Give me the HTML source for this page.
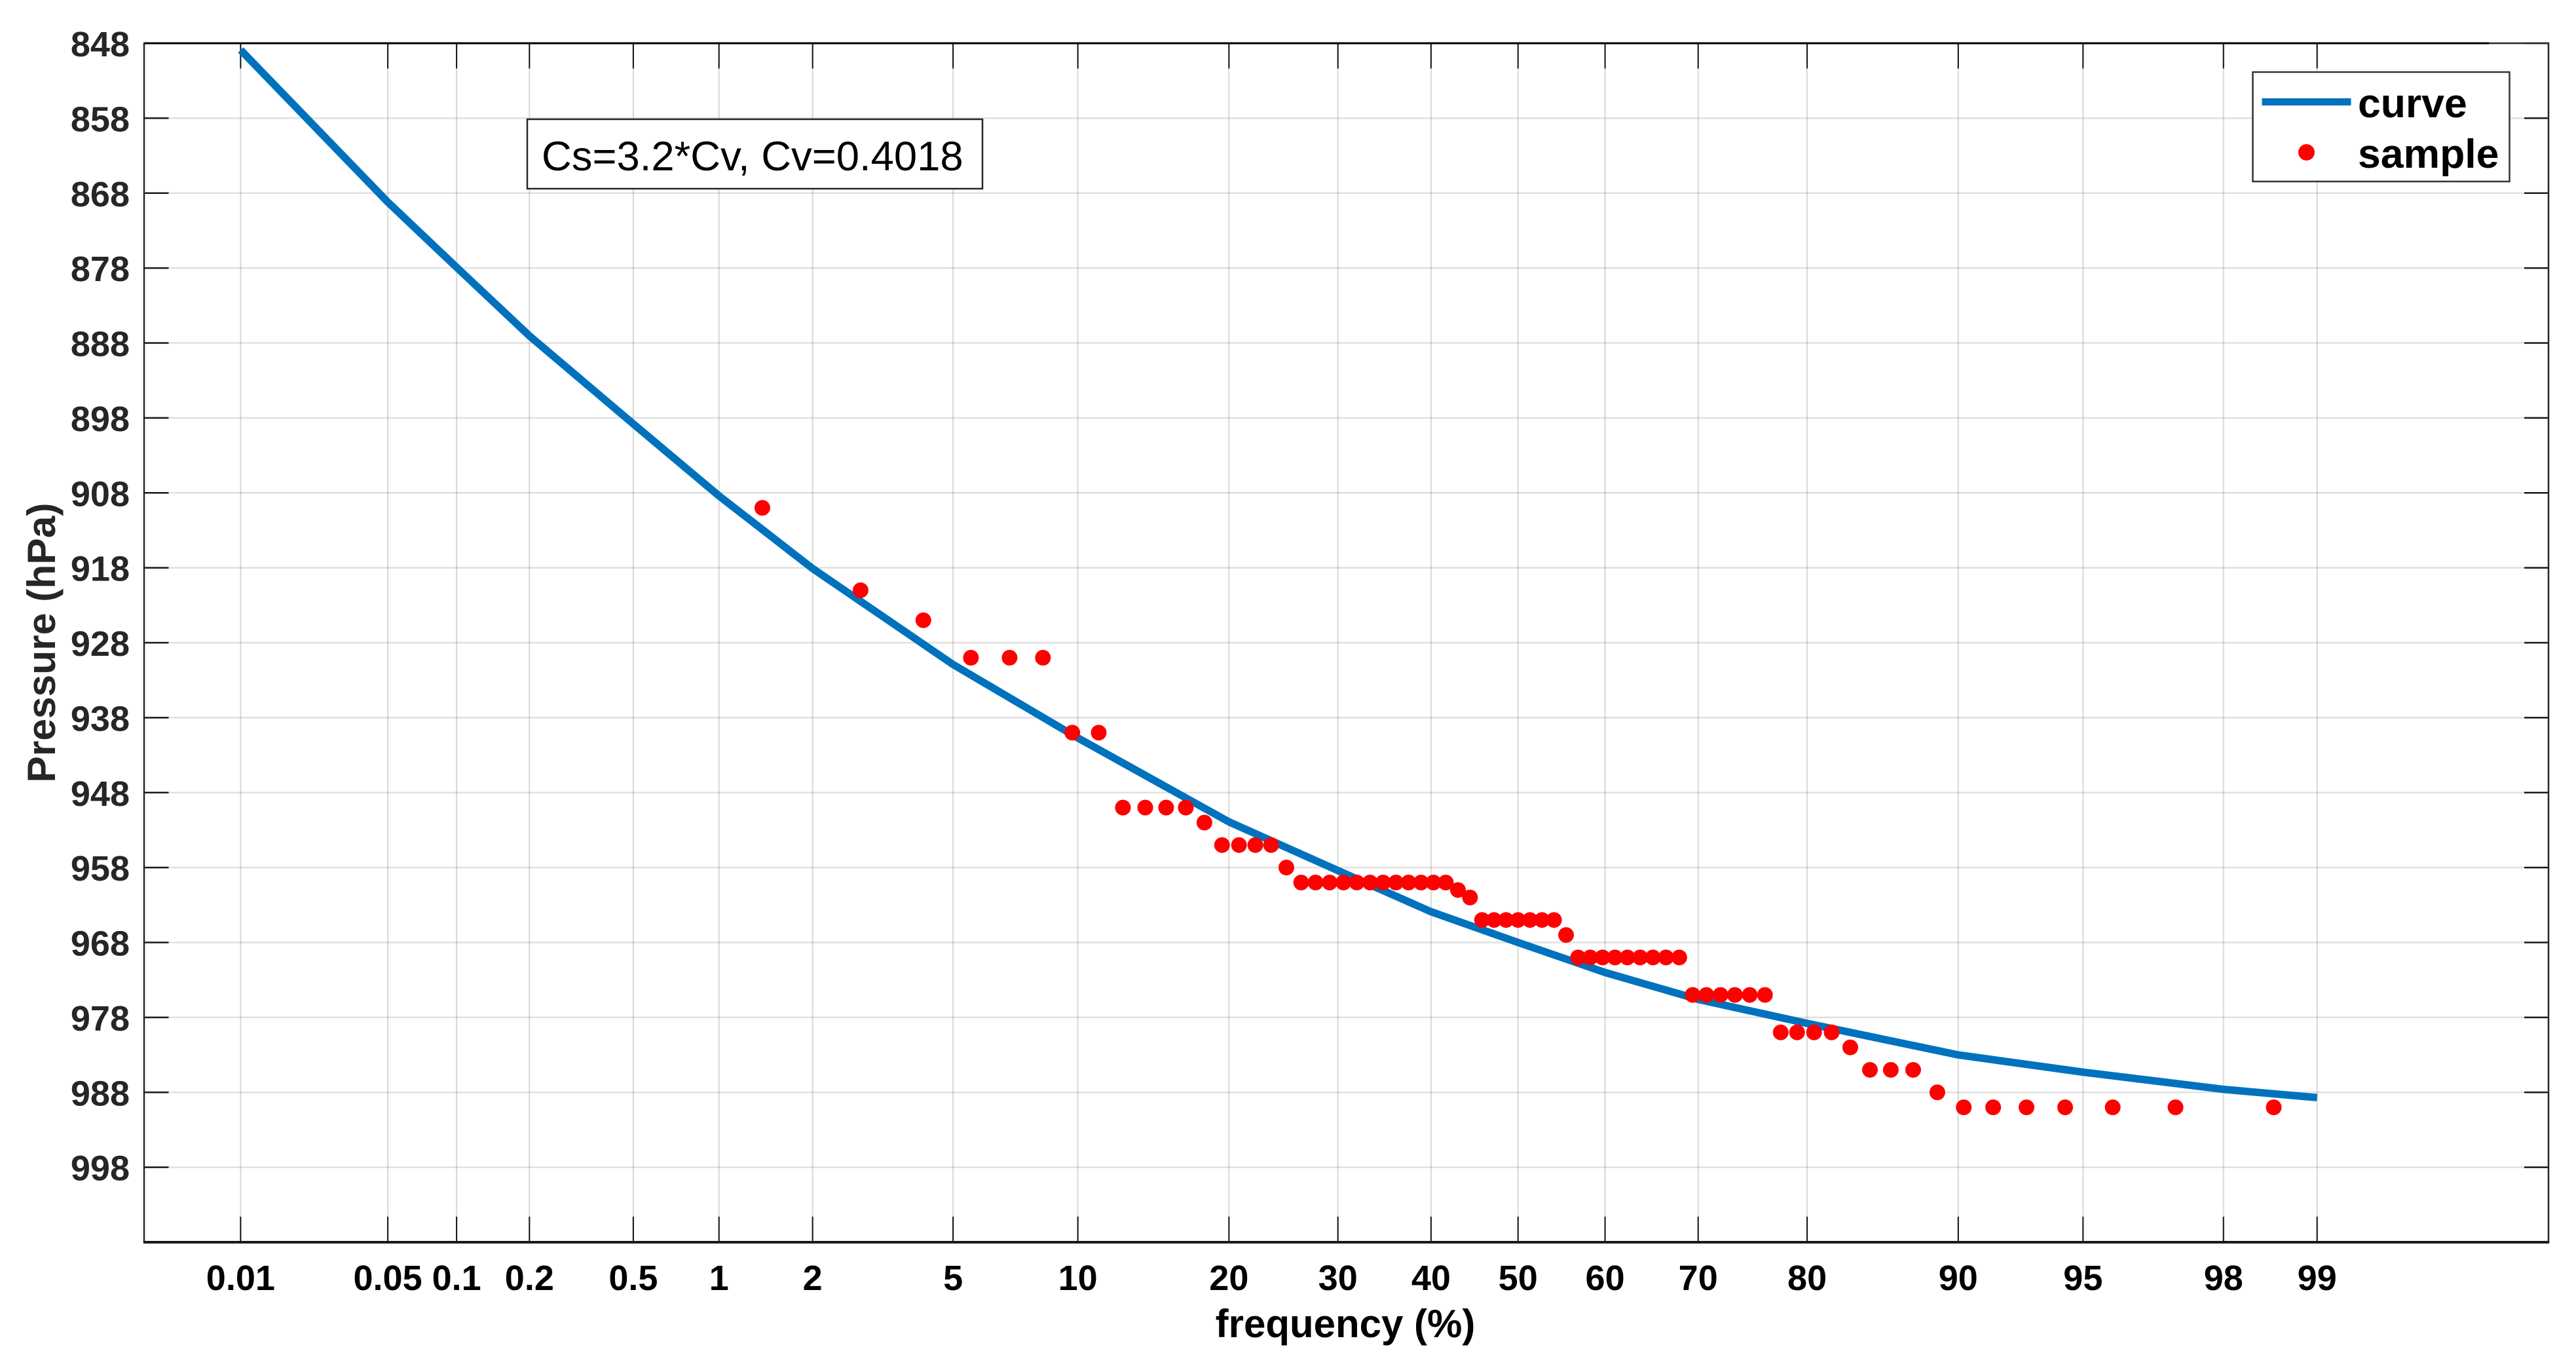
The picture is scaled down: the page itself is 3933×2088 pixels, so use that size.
<!DOCTYPE html>
<html lang="en">
<head>
<meta charset="utf-8">
<title>Pressure frequency curve</title>
<style>
html,body{margin:0;padding:0;background:#fff;}
svg{display:block;}
text{font-family:"Liberation Sans",Arial,sans-serif;}
</style>
</head>
<body>
<svg id="chart" xmlns="http://www.w3.org/2000/svg" width="3933" height="2088" viewBox="0 0 3933 2088">
  <rect x="0" y="0" width="3933" height="2088" fill="#ffffff"/>
  <g id="grid"></g>
  <g id="ticks"></g>
  <rect x="220" y="66" width="3671" height="1830" fill="none" stroke="#262626" stroke-width="2.5"/>
  <line x1="219" y1="1896" x2="3892" y2="1896" stroke="#1a1a1a" stroke-width="4"/>
  <line x1="220" y1="66" x2="3800" y2="66" stroke="#000000" stroke-width="3"/>
  <polyline id="curve" fill="none" stroke="#0072BD" stroke-width="11.5" stroke-linejoin="round"/>
  <g id="samples"></g>
  <g id="xlabels"></g>
  <g id="ylabels"></g>
  <text x="2054" y="2041" font-size="60" font-weight="bold" fill="#000000" text-anchor="middle">frequency (%)</text>
  <text transform="translate(84,981) rotate(-90)" font-size="60.5" font-weight="bold" fill="#262626" text-anchor="middle">Pressure (hPa)</text>
  <g>
    <rect x="805" y="182" width="695" height="106" fill="#ffffff" stroke="#262626" stroke-width="2.5"/>
    <text x="827" y="260" font-size="63.4" fill="#000000">Cs=3.2*Cv, Cv=0.4018</text>
  </g>
  <g>
    <rect x="3439.5" y="110" width="392" height="167" fill="#ffffff" stroke="#333333" stroke-width="2.5"/>
    <line x1="3453.5" y1="155.5" x2="3589.5" y2="155.5" stroke="#0072BD" stroke-width="11"/>
    <text x="3600" y="179" font-size="62.5" font-weight="bold" fill="#000000">curve</text>
    <circle cx="3521.5" cy="232.5" r="12.5" fill="#ff0000"/>
    <text x="3600" y="256" font-size="62.5" font-weight="bold" fill="#000000">sample</text>
  </g>
</svg>
<script>
var xTickFrequencies = [0.01, 0.05, 0.1, 0.2, 0.5, 1, 2, 5, 10, 20, 30, 40, 50, 60, 70, 80, 90, 95, 98, 99];
var yTickPressures = [848, 858, 868, 878, 888, 898, 908, 918, 928, 938, 948, 958, 968, 978, 988, 998];

var curveFrequency = [0.01, 0.05, 0.1, 0.2, 0.5, 1, 2, 5, 10, 20, 30, 40, 50, 60, 70, 80, 90, 95, 98, 99];
var curvePressure = [848.9, 869.2, 877.9, 887.05, 898.8, 908.4, 918.1, 930.9, 940.7, 951.9, 958.4, 963.9, 968, 972, 975.6, 978.8, 983, 985.3, 987.6, 988.7];

var sampleFrequency = [1.39, 2.78, 4.17, 5.56, 6.94, 8.33, 9.72, 11.11, 12.5, 13.89, 15.28, 16.67, 18.06, 19.44, 20.83, 22.22, 23.61, 25, 26.39, 27.78, 29.17, 30.56, 31.94, 33.33, 34.72, 36.11, 37.5, 38.89, 40.28, 41.67, 43.06, 44.44, 45.83, 47.22, 48.61, 50, 51.39, 52.78, 54.17, 55.56, 56.94, 58.33, 59.72, 61.11, 62.5, 63.89, 65.28, 66.67, 68.06, 69.44, 70.83, 72.22, 73.61, 75, 76.39, 77.78, 79.17, 80.56, 81.94, 83.33, 84.72, 86.11, 87.5, 88.89, 90.28, 91.67, 93.06, 94.44, 95.83, 97.22, 98.61];
var samplePressure = [910, 921, 925, 930, 930, 930, 940, 940, 950, 950, 950, 950, 952, 955, 955, 955, 955, 958, 960, 960, 960, 960, 960, 960, 960, 960, 960, 960, 960, 960, 961, 962, 965, 965, 965, 965, 965, 965, 965, 967, 970, 970, 970, 970, 970, 970, 970, 970, 970, 975, 975, 975, 975, 975, 975, 980, 980, 980, 980, 982, 985, 985, 985, 988, 990, 990, 990, 990, 990, 990, 990];

var SVG_NS = 'http://www.w3.org/2000/svg';

function probit(p) {
  var a = [-39.69683028665376, 220.9460984245205, -275.9285104469687, 138.3577518672690, -30.66479806614716, 2.506628277459239];
  var b = [-54.47609879822406, 161.5858368580409, -155.6989798598866, 66.80131188771972, -13.28068155288572];
  var c = [-0.007784894002430293, -0.3223964580411365, -2.400758277161838, -2.549732539343734, 4.374664141464968, 2.938163982698783];
  var d = [0.007784695709041462, 0.3224671290700398, 2.445134137142996, 3.754408661907416];
  var q, r;
  if (p < 0.02425) {
    q = Math.sqrt(-2 * Math.log(p));
    return (((((c[0]*q+c[1])*q+c[2])*q+c[3])*q+c[4])*q+c[5]) / ((((d[0]*q+d[1])*q+d[2])*q+d[3])*q+1);
  }
  if (p > 1 - 0.02425) {
    q = Math.sqrt(-2 * Math.log(1 - p));
    return -(((((c[0]*q+c[1])*q+c[2])*q+c[3])*q+c[4])*q+c[5]) / ((((d[0]*q+d[1])*q+d[2])*q+d[3])*q+1);
  }
  q = p - 0.5;
  r = q * q;
  return (((((a[0]*r+a[1])*r+a[2])*r+a[3])*r+a[4])*r+a[5])*q / (((((b[0]*r+b[1])*r+b[2])*r+b[3])*r+b[4])*r+1);
}

function xScale(freq) {
  return 220 + (probit(freq / 100) + 4) * (3671 / 7);
}
function yScale(pressure) {
  return 66 + (pressure - 848) * (1830 / 160);
}
function make(tag, attrs) {
  var el = document.createElementNS(SVG_NS, tag);
  for (var k in attrs) { el.setAttribute(k, attrs[k]); }
  return el;
}

var gridG = document.getElementById('grid');
var ticksG = document.getElementById('ticks');
var xLabelsG = document.getElementById('xlabels');
var yLabelsG = document.getElementById('ylabels');
var samplesG = document.getElementById('samples');

xTickFrequencies.forEach(function (f) {
  var x = xScale(f);
  var g = make('line', {x1: x, y1: 66, x2: x, y2: 1896, stroke: '#262626', 'stroke-opacity': 0.18, 'stroke-width': 2});
  
  
  gridG.appendChild(g);

  var t1 = make('line', {x1: x, y1: 66, x2: x, y2: 104.5, stroke: '#111111', 'stroke-width': 2});
  
  
  ticksG.appendChild(t1);

  var t2 = make('line', {x1: x, y1: 1857, x2: x, y2: 1896, stroke: '#111111', 'stroke-width': 2});
  
  
  ticksG.appendChild(t2);

  var lab = make('text', {x: x, y: 1969, 'font-size': 54, 'font-weight': 'bold', fill: '#000000', 'text-anchor': 'middle'});
  
  
  lab.textContent = String(f);
  xLabelsG.appendChild(lab);
});

yTickPressures.forEach(function (p) {
  var y = yScale(p);
  var g = make('line', {x1: 220, y1: y, x2: 3891, y2: y, stroke: '#262626', 'stroke-opacity': 0.14, 'stroke-width': 2.5});
  
  
  gridG.appendChild(g);

  var t1 = make('line', {x1: 220, y1: y, x2: 257.5, y2: y, stroke: '#1a1a1a', 'stroke-width': 2.5});
  
  
  ticksG.appendChild(t1);

  var t2 = make('line', {x1: 3854, y1: y, x2: 3891, y2: y, stroke: '#1a1a1a', 'stroke-width': 2.5});
  
  
  ticksG.appendChild(t2);

  var lab = make('text', {x: 198, y: y + 20, 'font-size': 54, 'font-weight': 'bold', fill: '#262626', 'text-anchor': 'end'});
  
  
  lab.textContent = String(p);
  yLabelsG.appendChild(lab);
});

document.getElementById('curve').setAttribute('points', curveFrequency.map(function (f, i) {
  return xScale(f).toFixed(1) + ',' + yScale(curvePressure[i]).toFixed(1);
}).join(' '));

sampleFrequency.forEach(function (f, i) {
  var c = make('circle', {cx: xScale(f), cy: yScale(samplePressure[i]), r: 12, fill: '#ff0000'});
  
  
  samplesG.appendChild(c);
});
</script>
</body>
</html>
